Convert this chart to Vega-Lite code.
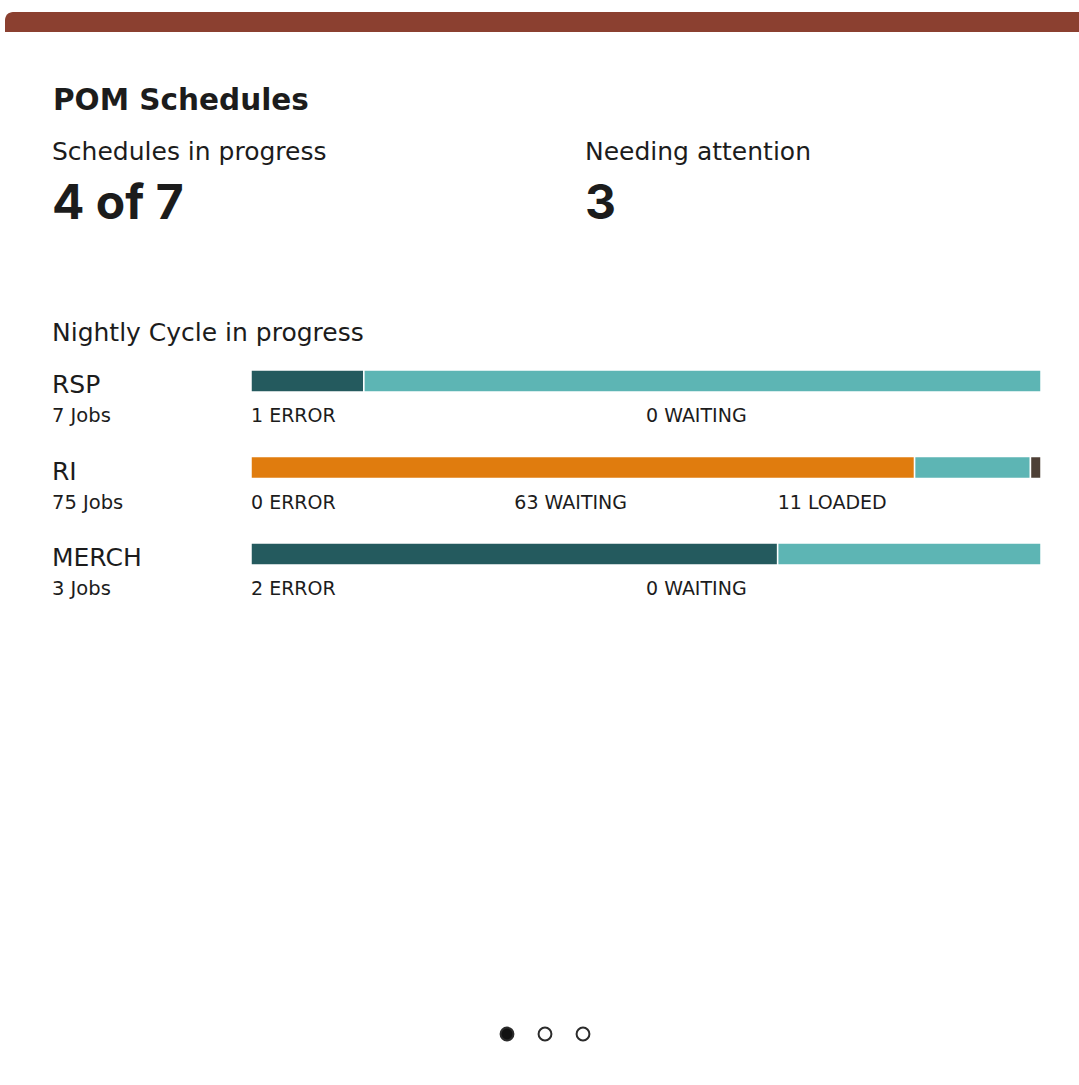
{
  "$schema": "https://vega.github.io/schema/vega-lite/v6.json",
  "background": "#ffffff",
  "padding": {"left": 5, "top": 12, "right": 0, "bottom": 0},
  "autosize": {"type": "pad"},
  "config": {
    "font": "DejaVu Sans",
    "view": {"stroke": null},
    "concat": {"spacing": 0},
    "text": {"color": "#1c1c1c"}
  },
  "bounds": "full",
  "spacing": 0,
  "resolve": {"scale": {"x": "independent", "y": "independent", "color": "independent", "fill": "independent"}},
  "vconcat": [
    {
      "width": 1074,
      "height": 20,
      "data": {"values": [{"section": "card header"}]},
      "mark": {"type": "rect", "color": "#8b4030", "cornerRadiusTopLeft": 8},
      "encoding": {}
    },
    {
      "width": 1074,
      "height": 337,
      "data": {"values": [
        {"metric": "Schedules in progress", "value": "4 of 7"},
        {"metric": "Needing attention", "value": "3"}
      ]},
      "layer": [
        {
          "data": {"values": [{"title": "POM Schedules"}]},
          "mark": {"type": "text", "align": "left", "baseline": "alphabetic", "fontSize": 29.5, "fontWeight": "bold"},
          "encoding": {"text": {"field": "title"}, "x": {"value": 48}, "y": {"value": 78}}
        },
        {
          "mark": {"type": "text", "align": "left", "baseline": "alphabetic", "fontSize": 25},
          "encoding": {
            "text": {"field": "metric"},
            "x": {"field": "metric", "type": "nominal", "sort": null, "bandPosition": 0, "axis": null,
                  "scale": {"type": "band", "range": [47, 1113], "paddingInner": 0, "paddingOuter": 0}},
            "y": {"value": 128}
          }
        },
        {
          "mark": {"type": "text", "align": "left", "baseline": "alphabetic", "font": "Inter", "fontSize": 48, "fontWeight": "bold"},
          "encoding": {
            "text": {"field": "value"},
            "x": {"field": "metric", "type": "nominal", "sort": null, "bandPosition": 0, "axis": null},
            "y": {"value": 187}
          }
        },
        {
          "data": {"values": [{"subtitle": "Nightly Cycle in progress"}]},
          "mark": {"type": "text", "align": "left", "baseline": "alphabetic", "fontSize": 25},
          "encoding": {"text": {"field": "subtitle"}, "x": {"value": 47}, "y": {"value": 309}}
        }
      ]
    },
    {
      "bounds": "flush",
      "spacing": 0,
      "resolve": {"scale": {"x": "independent", "y": "independent", "color": "independent"}},
      "hconcat": [
        {
          "width": 246,
          "height": 612,
          "data": {"values": [
            {"row": "RSP", "jobs": "7 Jobs"},
            {"row": "RI", "jobs": "75 Jobs"},
            {"row": "MERCH", "jobs": "3 Jobs"}
          ]},
          "encoding": {
            "y": {"field": "row", "type": "nominal", "sort": null, "bandPosition": 0, "axis": null,
                  "scale": {"type": "band", "range": [0, 259.5], "paddingInner": 0, "paddingOuter": 0}},
            "x": {"value": 47}
          },
          "layer": [
            {"mark": {"type": "text", "align": "left", "baseline": "alphabetic", "dy": 23, "fontSize": 25},
             "encoding": {"text": {"field": "row"}}},
            {"mark": {"type": "text", "align": "left", "baseline": "alphabetic", "dy": 52, "fontSize": 19.5},
             "encoding": {"text": {"field": "jobs"}}}
          ]
        },
        {
          "bounds": "flush",
          "spacing": 64.5,
          "resolve": {"scale": {"x": "independent", "y": "independent"}},
          "vconcat": [
            {
              "width": 790, "height": 22,
              "resolve": {"scale": {"x": "independent"}},
              "layer": [
                {
                  "data": {"values": [
                    {"row": "RSP", "status": "ERROR", "count": 1, "seq": 1},
                    {"row": "RSP", "status": "LOADED", "count": 6, "seq": 2}
                  ]},
                  "mark": {"type": "bar", "stroke": "#ffffff", "strokeWidth": 1.5},
                  "encoding": {
                    "x": {"field": "count", "type": "quantitative", "stack": "normalize", "axis": null},
                    "y": {"field": "row", "type": "nominal", "axis": null, "scale": {"type": "band", "paddingInner": 0, "paddingOuter": 0}},
                    "color": {"field": "status", "type": "nominal", "legend": null,
                              "scale": {"domain": ["ERROR", "WAITING", "LOADED", "RUNNING"], "range": ["#245a5e", "#e07c0e", "#5db5b4", "#4e4036"]}},
                    "order": {"field": "seq"}
                  }
                },
                {
                  "data": {"values": [
                    {"row": "RSP", "status": "ERROR", "label": "1 ERROR"},
                    {"row": "RSP", "status": "WAITING", "label": "0 WAITING"}
                  ]},
                  "mark": {"type": "text", "align": "left", "baseline": "alphabetic", "dy": 41, "fontSize": 19},
                  "encoding": {
                    "text": {"field": "label"},
                    "x": {"field": "status", "type": "nominal", "sort": null, "bandPosition": 0, "axis": null,
                          "scale": {"type": "band", "paddingInner": 0, "paddingOuter": 0}},
                    "y": {"field": "row", "type": "nominal", "axis": null}
                  }
                }
              ]
            },
            {
              "width": 790, "height": 22,
              "resolve": {"scale": {"x": "independent"}},
              "layer": [
                {
                  "data": {"values": [
                    {"row": "RI", "status": "WAITING", "count": 63, "seq": 1},
                    {"row": "RI", "status": "LOADED", "count": 11, "seq": 2},
                    {"row": "RI", "status": "RUNNING", "count": 1, "seq": 3}
                  ]},
                  "mark": {"type": "bar", "stroke": "#ffffff", "strokeWidth": 1.5},
                  "encoding": {
                    "x": {"field": "count", "type": "quantitative", "stack": "normalize", "axis": null},
                    "y": {"field": "row", "type": "nominal", "axis": null, "scale": {"type": "band", "paddingInner": 0, "paddingOuter": 0}},
                    "color": {"field": "status", "type": "nominal", "legend": null,
                              "scale": {"domain": ["ERROR", "WAITING", "LOADED", "RUNNING"], "range": ["#245a5e", "#e07c0e", "#5db5b4", "#4e4036"]}},
                    "order": {"field": "seq"}
                  }
                },
                {
                  "data": {"values": [
                    {"row": "RI", "status": "ERROR", "label": "0 ERROR"},
                    {"row": "RI", "status": "WAITING", "label": "63 WAITING"},
                    {"row": "RI", "status": "LOADED", "label": "11 LOADED"}
                  ]},
                  "mark": {"type": "text", "align": "left", "baseline": "alphabetic", "dy": 41, "fontSize": 19},
                  "encoding": {
                    "text": {"field": "label"},
                    "x": {"field": "status", "type": "nominal", "sort": null, "bandPosition": 0, "axis": null,
                          "scale": {"type": "band", "paddingInner": 0, "paddingOuter": 0}},
                    "y": {"field": "row", "type": "nominal", "axis": null}
                  }
                }
              ]
            },
            {
              "width": 790, "height": 22,
              "resolve": {"scale": {"x": "independent"}},
              "layer": [
                {
                  "data": {"values": [
                    {"row": "MERCH", "status": "ERROR", "count": 2, "seq": 1},
                    {"row": "MERCH", "status": "LOADED", "count": 1, "seq": 2}
                  ]},
                  "mark": {"type": "bar", "stroke": "#ffffff", "strokeWidth": 1.5},
                  "encoding": {
                    "x": {"field": "count", "type": "quantitative", "stack": "normalize", "axis": null},
                    "y": {"field": "row", "type": "nominal", "axis": null, "scale": {"type": "band", "paddingInner": 0, "paddingOuter": 0}},
                    "color": {"field": "status", "type": "nominal", "legend": null,
                              "scale": {"domain": ["ERROR", "WAITING", "LOADED", "RUNNING"], "range": ["#245a5e", "#e07c0e", "#5db5b4", "#4e4036"]}},
                    "order": {"field": "seq"}
                  }
                },
                {
                  "data": {"values": [
                    {"row": "MERCH", "status": "ERROR", "label": "2 ERROR"},
                    {"row": "MERCH", "status": "WAITING", "label": "0 WAITING"}
                  ]},
                  "mark": {"type": "text", "align": "left", "baseline": "alphabetic", "dy": 41, "fontSize": 19},
                  "encoding": {
                    "text": {"field": "label"},
                    "x": {"field": "status", "type": "nominal", "sort": null, "bandPosition": 0, "axis": null,
                          "scale": {"type": "band", "paddingInner": 0, "paddingOuter": 0}},
                    "y": {"field": "row", "type": "nominal", "axis": null}
                  }
                }
              ]
            }
          ]
        }
      ]
    },
    {
      "width": 1074,
      "height": 104,
      "data": {"values": [
        {"page": 1, "current": "yes"},
        {"page": 2, "current": "no"},
        {"page": 3, "current": "no"}
      ]},
      "mark": {"type": "point", "shape": "circle", "filled": true, "size": 165, "strokeWidth": 2, "opacity": 1},
      "encoding": {
        "x": {"field": "page", "type": "ordinal", "axis": null, "scale": {"type": "point", "range": [502, 578], "padding": 0}},
        "fill": {"field": "current", "type": "nominal", "legend": null, "scale": {"domain": ["yes", "no"], "range": ["#111111", "#ffffff"]}},
        "stroke": {"value": "#2b2b2b"}
      }
    }
  ]
}
